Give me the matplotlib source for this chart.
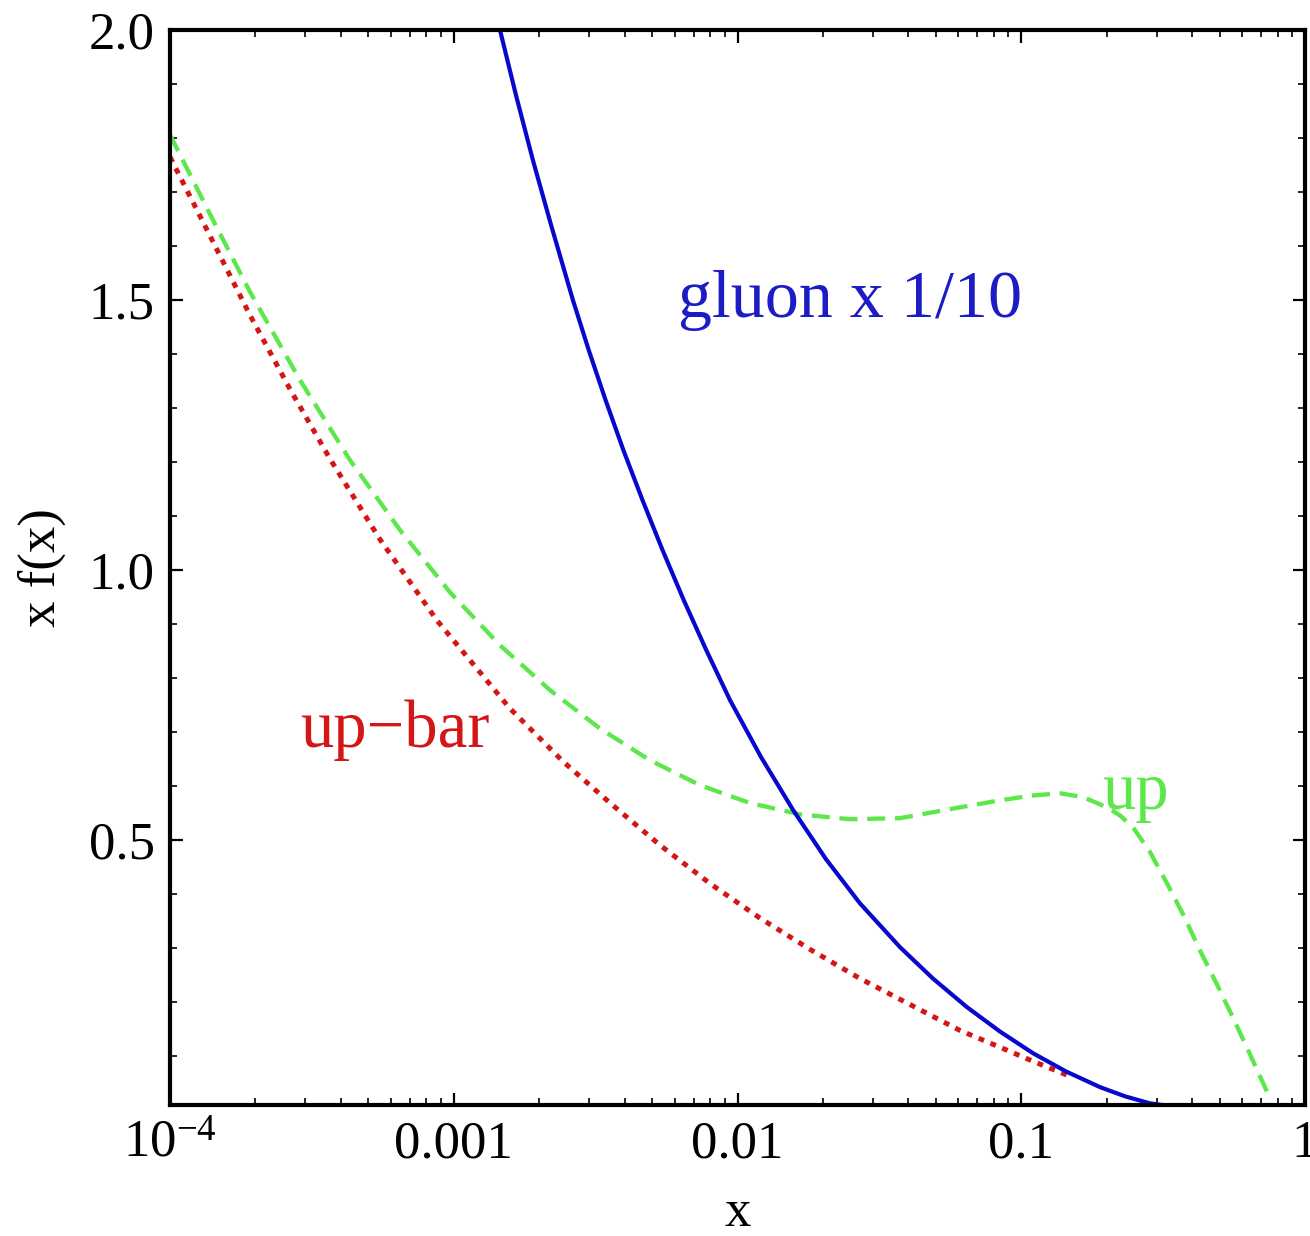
import matplotlib
matplotlib.use("Agg")
import matplotlib.pyplot as plt
import numpy as np
from matplotlib.ticker import FixedLocator, MultipleLocator, LogLocator, NullFormatter

plt.rcParams['font.family'] = ['Liberation Serif', 'DejaVu Serif']
plt.rcParams['mathtext.fontset'] = 'custom'
plt.rcParams['mathtext.rm'] = 'Liberation Serif'
plt.rcParams['mathtext.it'] = 'Liberation Serif:italic'
plt.rcParams['lines.scale_dashes'] = False

# ---- data, x given as log10(x) ----
upbar_logx = [-4.000, -3.859, -3.718, -3.577, -3.436, -3.260, -3.059, -2.802, -2.615,
              -2.449, -2.273, -2.097, -1.921, -1.744, -1.568, -1.392, -1.216, -1.075,
              -0.959, -0.818]
upbar_y = [1.765, 1.619, 1.472, 1.335, 1.206, 1.057, 0.907, 0.744, 0.646,
           0.569, 0.491, 0.420, 0.356, 0.298, 0.244, 0.196, 0.148, 0.117,
           0.091, 0.061]

up_logx = [-4.000, -3.859, -3.718, -3.542, -3.366, -3.189, -3.013, -2.837, -2.661,
           -2.485, -2.308, -2.132, -1.956, -1.780, -1.604, -1.427, -1.216, -1.075,
           -0.959, -0.863, -0.782, -0.698, -0.652, -0.606, -0.546, -0.486, -0.423,
           -0.370, -0.310, -0.254, -0.194, -0.123]
up_y = [1.806, 1.659, 1.515, 1.352, 1.204, 1.074, 0.959, 0.861, 0.778,
        0.707, 0.648, 0.602, 0.569, 0.548, 0.539, 0.541, 0.561, 0.574,
        0.583, 0.587, 0.580, 0.561, 0.546, 0.524, 0.478, 0.420, 0.356,
        0.296, 0.233, 0.172, 0.104, 0.022]

# gluon already divided by 10, as drawn
gluon_logx = [-2.851, -2.837, -2.781, -2.721, -2.657, -2.580, -2.524, -2.465, -2.402,
              -2.335, -2.264, -2.189, -2.110, -2.026, -1.917, -1.804, -1.688, -1.568,
              -1.427, -1.311, -1.191, -1.075, -0.959, -0.842, -0.722, -0.634, -0.546,
              -0.458]
gluon_y = [2.028, 2.000, 1.880, 1.759, 1.639, 1.500, 1.407, 1.315, 1.222,
           1.130, 1.037, 0.944, 0.852, 0.759, 0.654, 0.556, 0.465, 0.383,
           0.302, 0.244, 0.191, 0.146, 0.106, 0.072, 0.043, 0.026, 0.013,
           0.007]

xtick_vals = [1e-4, 1e-3, 1e-2, 1e-1, 1.0]
xtick_labels = [r'$10^{-4}$', '0.001', '0.01', '0.1', '1']
ytick_vals = [0.5, 1.0, 1.5, 2.0]
ytick_labels = ['0.5', '1.0', '1.5', '2.0']

upbar_x = np.power(10.0, upbar_logx)
up_x = np.power(10.0, up_logx)
gluon_x = np.power(10.0, gluon_logx)

W, H = 1310, 1236
fig = plt.figure(figsize=(W / 100, H / 100), dpi=100)
ax = fig.add_axes([170 / W, 1 - 1105 / H, (1305 - 170) / W, (1105 - 30) / H])

blue = '#0808cc'
red = '#d41616'
green = '#5ce84a'

ax.plot(upbar_x, upbar_y, color=red, lw=3.6, dashes=(4.2, 5.0), dash_capstyle='butt')
ax.plot(up_x, up_y, color=green, lw=3.1, dashes=(13.0, 7.0), dash_capstyle='butt')
ax.plot(gluon_x, gluon_y, color=blue, lw=3.0, solid_capstyle='butt', solid_joinstyle='round')

ax.set_xscale('log')
ax.set_xlim(1e-4, 1.0)
ax.set_ylim(0.01, 2.0)

ax.xaxis.set_major_locator(FixedLocator(xtick_vals))
ax.set_xticklabels(xtick_labels)
ax.xaxis.set_minor_locator(LogLocator(base=10, subs=np.arange(2, 10)))
ax.xaxis.set_minor_formatter(NullFormatter())
ax.yaxis.set_major_locator(FixedLocator(ytick_vals))
ax.set_yticklabels(ytick_labels)
ax.yaxis.set_minor_locator(MultipleLocator(0.1))

for s in ax.spines.values():
    s.set_linewidth(3.0)

ax.tick_params(which='both', direction='in', top=True, right=True, color='black')
ax.tick_params(which='major', length=9, width=1.6, labelsize=38, pad=11)
ax.tick_params(which='minor', length=5, width=1.2)

ax.set_xlabel('x', fontsize=38, labelpad=15)
ax.set_ylabel('x f(x)', fontsize=38, labelpad=16)

ax.text(0.0249, 1.50, 'gluon x 1/10', color='#1c1cc4', fontsize=49, ha='center', va='center')
ax.text(6.21e-4, 0.704, 'up\u2212bar', color=red, fontsize=48, ha='center', va='center')
ax.text(0.2535, 0.589, 'up', color=green, fontsize=48, ha='center', va='center')

fig.savefig('out.png', dpi=100)
